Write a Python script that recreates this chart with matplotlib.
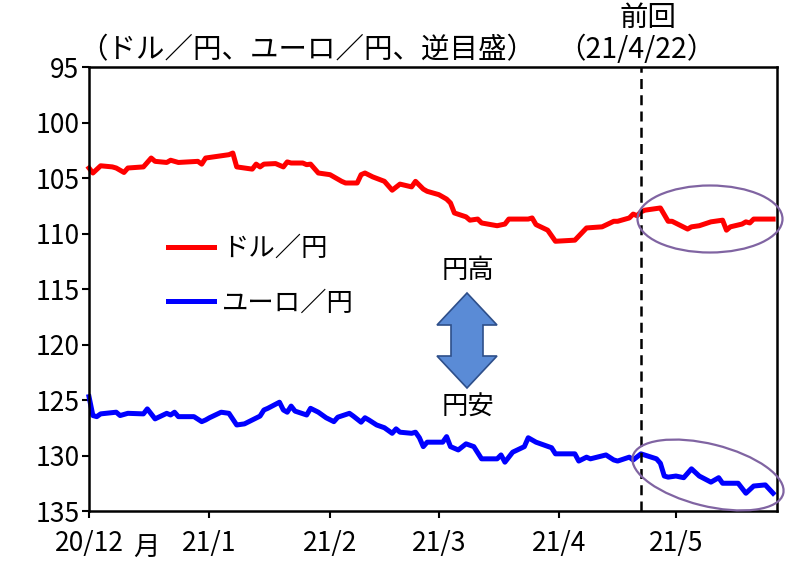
import matplotlib.pyplot as plt
import matplotlib.dates as mdates
from matplotlib.patches import Ellipse, Polygon
import pandas as pd

# フォント設定
plt.rcParams['font.family'] = ['Noto Sans CJK JP', 'DejaVu Sans']
font_size = 19
tick_size = 19
head_size = 20.5

# ドル／円
usd_dates = [
    "2020-12-01", "2020-12-02", "2020-12-04", "2020-12-07", "2020-12-08", "2020-12-10",
    "2020-12-11", "2020-12-15", "2020-12-17", "2020-12-18", "2020-12-21", "2020-12-22",
    "2020-12-24", "2020-12-29", "2020-12-30", "2020-12-31", "2021-01-04", "2021-01-06",
    "2021-01-07", "2021-01-08", "2021-01-12", "2021-01-13", "2021-01-14", "2021-01-15",
    "2021-01-18", "2021-01-20", "2021-01-21", "2021-01-22", "2021-01-25", "2021-01-26",
    "2021-01-27", "2021-01-29", "2021-02-01", "2021-02-03", "2021-02-04", "2021-02-05",
    "2021-02-08", "2021-02-09", "2021-02-10", "2021-02-12", "2021-02-15", "2021-02-17",
    "2021-02-19", "2021-02-22", "2021-02-23", "2021-02-25", "2021-02-26", "2021-03-01",
    "2021-03-02", "2021-03-03", "2021-03-04", "2021-03-05", "2021-03-08", "2021-03-09",
    "2021-03-11", "2021-03-12", "2021-03-16", "2021-03-18", "2021-03-19", "2021-03-24",
    "2021-03-25", "2021-03-26", "2021-03-29", "2021-03-31", "2021-04-05", "2021-04-08",
    "2021-04-12", "2021-04-15", "2021-04-16", "2021-04-19", "2021-04-20", "2021-04-21",
    "2021-04-22", "2021-04-23", "2021-04-27", "2021-04-29", "2021-04-30", "2021-05-04",
    "2021-05-05", "2021-05-07", "2021-05-10", "2021-05-13", "2021-05-14", "2021-05-15",
    "2021-05-18", "2021-05-19", "2021-05-20", "2021-05-21", "2021-05-26",
]
usd_jpy = [
    104.1, 104.55, 103.9, 104.0, 104.1, 104.5,
    104.1, 104.0, 103.2, 103.5, 103.6, 103.4,
    103.6, 103.5, 103.75, 103.2, 103.0, 102.9,
    102.75, 104.0, 104.2, 103.75, 104.0, 103.75,
    103.7, 104.0, 103.55, 103.65, 103.65, 103.8,
    103.75, 104.55, 104.7, 105.1, 105.3, 105.45,
    105.45, 104.7, 104.55, 104.9, 105.3, 106.1,
    105.55, 105.8, 105.3, 106.0, 106.2, 106.5,
    106.7, 106.9, 107.25, 108.15, 108.5, 108.8,
    108.7, 109.05, 109.3, 109.15, 108.7, 108.7,
    108.6, 109.2, 109.7, 110.7, 110.6, 109.5,
    109.4, 108.9, 108.9, 108.6, 108.25, 108.4,
    108.05, 107.9, 107.7, 108.9, 108.9, 109.6,
    109.4, 109.3, 108.95, 108.8, 109.7, 109.4,
    109.15, 108.95, 109.05, 108.7, 108.7,
]

# ユーロ／円
eur_dates = [
    "2020-12-01", "2020-12-02", "2020-12-03", "2020-12-04", "2020-12-08", "2020-12-09",
    "2020-12-11", "2020-12-15", "2020-12-16", "2020-12-18", "2020-12-21", "2020-12-22",
    "2020-12-23", "2020-12-24", "2020-12-28", "2020-12-30", "2020-12-31", "2021-01-01",
    "2021-01-04", "2021-01-06", "2021-01-08", "2021-01-10", "2021-01-12", "2021-01-14",
    "2021-01-15", "2021-01-16", "2021-01-19", "2021-01-20", "2021-01-21", "2021-01-22",
    "2021-01-23", "2021-01-26", "2021-01-27", "2021-01-29", "2021-01-31", "2021-02-02",
    "2021-02-03", "2021-02-06", "2021-02-07", "2021-02-09", "2021-02-10", "2021-02-11",
    "2021-02-13", "2021-02-15", "2021-02-17", "2021-02-18", "2021-02-19", "2021-02-22",
    "2021-02-23", "2021-02-24", "2021-02-25", "2021-02-26", "2021-03-02", "2021-03-03",
    "2021-03-04", "2021-03-06", "2021-03-08", "2021-03-10", "2021-03-12", "2021-03-16",
    "2021-03-17", "2021-03-18", "2021-03-20", "2021-03-23", "2021-03-24", "2021-03-26",
    "2021-03-30", "2021-03-31", "2021-04-05", "2021-04-06", "2021-04-08", "2021-04-09",
    "2021-04-13", "2021-04-15", "2021-04-16", "2021-04-19", "2021-04-20", "2021-04-22",
    "2021-04-26", "2021-04-27", "2021-04-28", "2021-04-29", "2021-05-01", "2021-05-03",
    "2021-05-05", "2021-05-07", "2021-05-10", "2021-05-12", "2021-05-13", "2021-05-17",
    "2021-05-19", "2021-05-21", "2021-05-24", "2021-05-26",
]
eur_jpy = [
    124.7, 126.4, 126.5, 126.25, 126.1, 126.4,
    126.2, 126.25, 125.8, 126.7, 126.2, 126.35,
    126.1, 126.5, 126.5, 126.95, 126.8, 126.6,
    126.1, 126.2, 127.25, 127.15, 126.8, 126.45,
    125.9, 125.75, 125.2, 125.9, 126.1, 125.55,
    126.0, 126.35, 125.75, 126.1, 126.6, 126.95,
    126.55, 126.2, 126.45, 127.0, 126.6, 126.8,
    127.25, 127.5, 128.0, 127.6, 127.9, 128.0,
    127.9, 128.4, 129.2, 128.8, 128.8, 128.3,
    129.2, 129.5, 128.95, 129.2, 130.3, 130.3,
    129.95, 130.6, 129.7, 129.2, 128.4, 128.8,
    129.3, 129.85, 129.85, 130.5, 130.15, 130.3,
    129.95, 130.4, 130.5, 130.15, 130.4, 129.85,
    130.3, 130.7, 131.85, 131.95, 131.85, 132.0,
    131.2, 131.85, 132.4, 132.0, 132.5, 132.5,
    133.4, 132.75, 132.65, 133.4,
]

tick_dates = ["2020-12-01", "2021-01-01", "2021-02-01", "2021-03-01", "2021-04-01", "2021-05-01"]
tick_labels = ["20/12", "21/1", "21/2", "21/3", "21/4", "21/5"]
prev_date = "2021-04-22"

W, H = 787, 563
fig = plt.figure(figsize=(W / 100, H / 100), dpi=100)
ax = fig.add_axes([89 / W, 1 - 511 / H, 688 / W, 444 / H])

ax.plot(pd.to_datetime(usd_dates), usd_jpy, color="#ff0000", lw=3.6,
        solid_joinstyle="round", label="ドル／円", clip_on=False)
ax.plot(pd.to_datetime(eur_dates), eur_jpy, color="#0000ff", lw=3.6,
        solid_joinstyle="round", label="ユーロ／円", clip_on=False)

# 前回の線
ax.axvline(pd.Timestamp(prev_date), color="black", lw=1.8, ls=(0, (4, 2.5)))

# 軸設定（逆目盛）
ax.set_xlim(pd.Timestamp("2020-12-01"), pd.Timestamp("2021-05-27"))
ax.set_ylim(135, 95)
ax.set_yticks(range(95, 136, 5))
ax.set_xticks(pd.to_datetime(tick_dates))
ax.set_xticklabels(tick_labels)
ax.tick_params(axis="both", labelsize=tick_size, width=1.5, length=5, direction="out")
ax.tick_params(axis="x", pad=9)
ax.tick_params(axis="y", pad=2)
for sp in ax.spines.values():
    sp.set_linewidth(1.8)

ax.legend(loc="upper left", bbox_to_anchor=(0.115, 0.622), frameon=False,
          fontsize=font_size, handlelength=1.75, handletextpad=0.3,
          labelspacing=1.05, borderpad=0, borderaxespad=0)

# テキスト
def px_text(x, y, s, size=font_size, **kw):
    fig.text(x / W, 1 - y / H, s, fontsize=size, va="center", **kw)

px_text(79, 50, "（ドル／円、ユーロ／円、逆目盛）", size=head_size, ha="left")
px_text(648, 18, "前回", size=head_size, ha="center")
px_text(636, 50, "（21/4/22）", size=head_size, ha="center")
px_text(468, 270, "円高", ha="center")
px_text(468, 407, "円安", ha="center")
px_text(146, 548, "月", ha="center")

# 両矢印
cx, top, bot = 467, 293, 388
hl, hw, bw = 32, 30, 16
arrow_px = [
    (cx, top), (cx + hw, top + hl), (cx + bw, top + hl), (cx + bw, bot - hl),
    (cx + hw, bot - hl), (cx, bot), (cx - hw, bot - hl), (cx - bw, bot - hl),
    (cx - bw, top + hl), (cx - hw, top + hl),
]
arrow = Polygon([(x / 100, (H - y) / 100) for x, y in arrow_px], closed=True,
                facecolor="#5a8bd6", edgecolor="#2e4f8a", lw=1.2,
                transform=fig.dpi_scale_trans)
fig.patches.append(arrow)

# 楕円
for (ex, ey, ew, eh, ang) in [(710, 219, 145, 67, 0), (708, 475, 155, 62, -14)]:
    fig.patches.append(Ellipse((ex / 100, (H - ey) / 100), ew / 100, eh / 100, angle=ang,
                               fill=False, edgecolor="#8064a2", lw=1.6,
                               transform=fig.dpi_scale_trans))

fig.savefig("out.png", dpi=100)
